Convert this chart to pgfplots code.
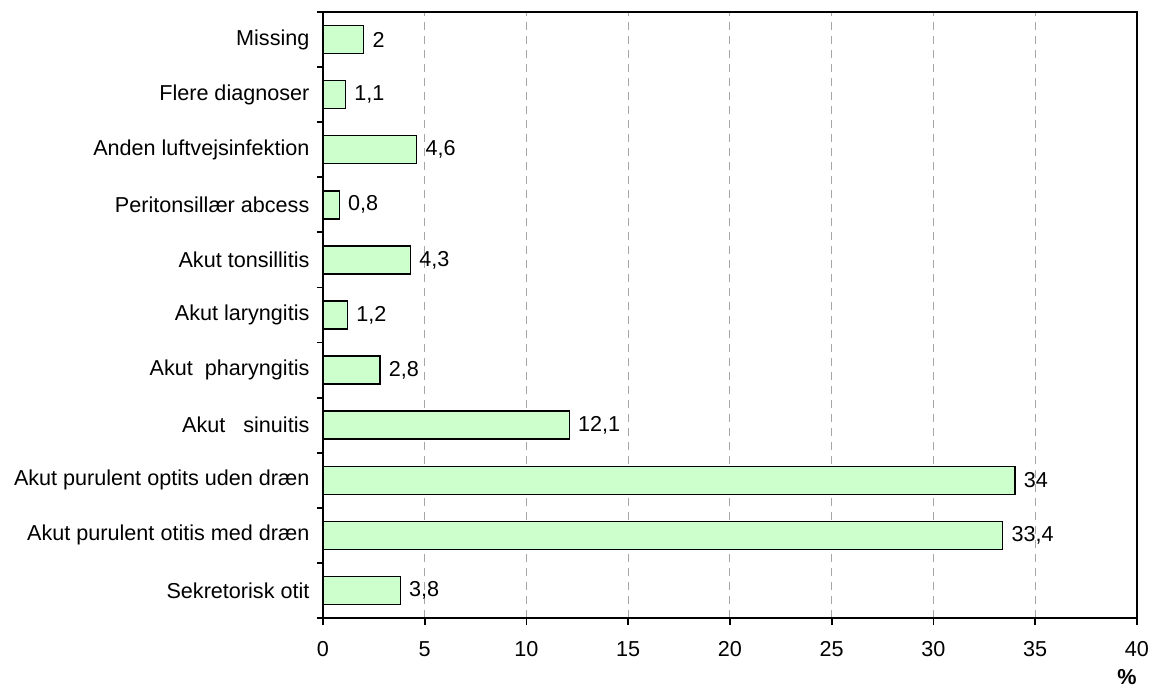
\documentclass[border=0pt]{standalone}
\usepackage{pgfplots}
\pgfplotsset{compat=1.18}
\usepackage{fontspec}
\setmainfont{Liberation Sans}
\definecolor{barfill}{HTML}{CCFFCC}
\definecolor{gridgray}{HTML}{A6A6A6}
\newcommand{\fs}{\fontsize{10.8}{13}\selectfont}
\begin{document}
\fs
\begin{tikzpicture}
\begin{axis}[
  scale only axis,
  width=407pt, height=303pt,
  xbar, bar width=14pt,
  xmin=0, xmax=40, ymin=-0.5, ymax=10.5,
  xtick={0,5,...,40},
  ytick={0,...,10},
  yticklabels={Sekretorisk otit, Akut purulent otitis med dræn, Akut purulent optits uden dræn, Akut\ \ \ sinuitis, Akut\ \ pharyngitis, Akut laryngitis, Akut tonsillitis, Peritonsillær abcess, Anden luftvejsinfektion, Flere diagnoser, Missing},
  extra y ticks={-0.5,0.5,...,10.5},
  extra y tick labels={},
  extra y tick style={ytick style={draw=black, line width=0.9pt}, major tick length=3pt},
  tick align=outside,
  xtick pos=bottom, ytick pos=left,
  major tick length=3.5pt,
  ytick style={draw=none},
  xtick style={black, line width=0.8pt},
  xmajorgrids, grid style={gridgray, dash pattern=on 4pt off 3pt, line width=0.5pt},
  axis line style={line width=0.8pt},
  /pgf/number format/assume math mode=true,
  ticklabel style={font=\fs},
  xticklabel style={yshift=-4.5pt},
  yticklabel style={xshift=0.5pt},
  xlabel={\%},
  xlabel style={at={(axis description cs:0.9877,-0.0974)}, anchor=center, font=\fs\bfseries},
  nodes near coords,
  point meta=explicit symbolic,
  nodes near coords style={anchor=west, xshift=0.5pt, font=\fs},
  clip=false,
]
\addplot[fill=barfill, draw=black, line width=0.7pt] coordinates {
  (3.8,0) [3,8]
  (33.4,1) [33,4]
  (34,2) [34]
  (12.1,3) [12,1]
  (2.8,4) [2,8]
  (1.2,5) [1,2]
  (4.3,6) [4,3]
  (0.8,7) [0,8]
  (4.6,8) [4,6]
  (1.1,9) [1,1]
  (2,10) [2]
};
\end{axis}
\pgfresetboundingbox
\path (-161.5pt,-34pt) rectangle (414pt,309pt);
\end{tikzpicture}
\end{document}
